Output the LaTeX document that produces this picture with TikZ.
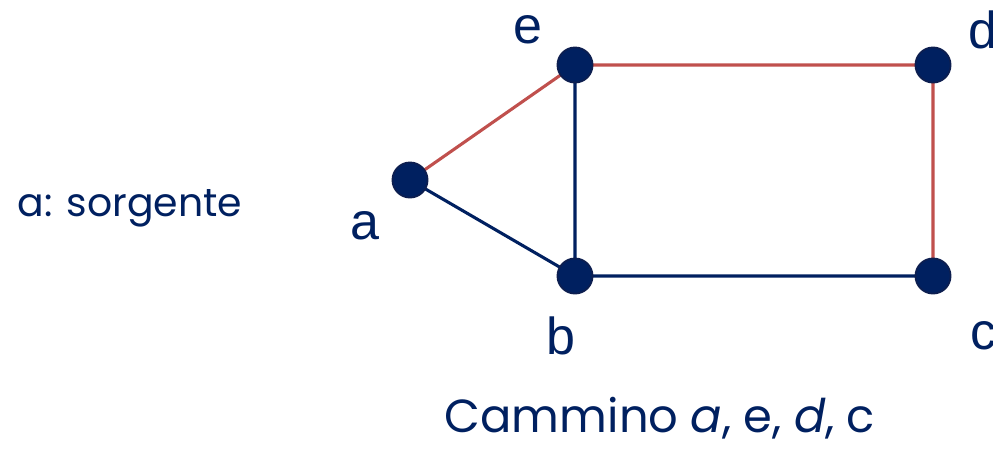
\documentclass[tikz,border=0pt]{standalone}
\usepackage{fontspec}
\setmainfont{Liberation Sans}
\newfontfamily\geofont{Poppins}
\usetikzlibrary{positioning,backgrounds}
\definecolor{navy}{HTML}{002060}
\definecolor{navyline}{HTML}{0D1E4F}
\definecolor{pathred}{HTML}{C0504D}
\tikzset{
  vertex/.style={circle,fill=navy,draw=navyline,line width=1.2pt,minimum size=0.88cm,inner sep=0pt},
  plain/.style={draw=navy,line width=2.2pt},
  route/.style={draw=pathred,line width=2.2pt},
  vlabel/.style={text=navy,font=\fontsize{37}{40}\selectfont}
}
\begin{document}
\begin{tikzpicture}[x=0.025cm,y=-0.025cm]
\useasboundingbox (0,0) rectangle (993,448);
% vertices
\node[vertex] (a) at (410,180) {};
\node[vertex] (e) at (575,65) {};
\node[vertex] (d) at (933,65) {};
\node[vertex] (b) at (575,276) {};
\node[vertex] (c) at (933,276) {};
% edges (behind the vertices)
\begin{pgfonlayer}{background}
\path[plain] (a.center) -- (b.center) (e.center) -- (b.center) -- (c.center);
\path[route] (a.center) -- (e.center) -- (d.center) -- (c.center);
\end{pgfonlayer}
% labels
\node[vlabel] (le) at (528,30) {e};
\node[vlabel] (ld) at (983,30) {d};
\node[vlabel] (la) at (365,226) {a};
\node[vlabel] (lb) at (561,336) {b};
\node[vlabel] (lc) at (983,336) {c};
\node[text=navy,font=\geofont\fontsize{28}{30}\selectfont] (src) at (130,208) {a: sorgente};
\node[text=navy,font=\geofont\fontsize{33}{36}\selectfont] (path) at (660,418) {Cammino \textit{a}, e, \textit{d}, c};
\end{tikzpicture}
\end{document}
